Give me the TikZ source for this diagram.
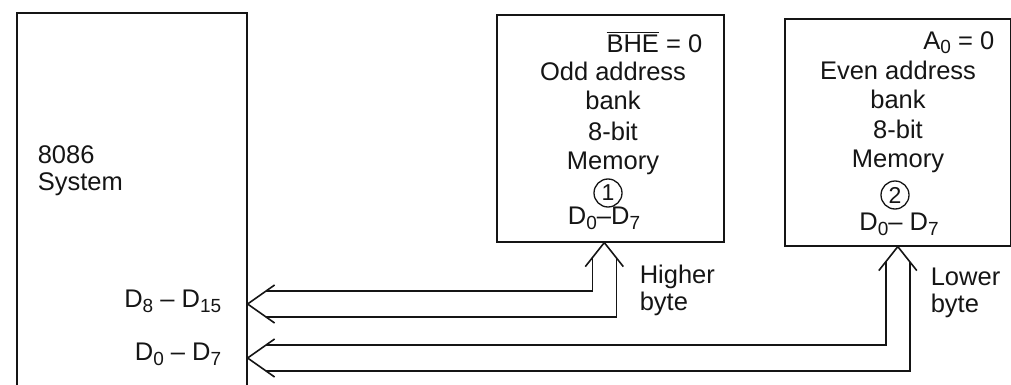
\documentclass[tikz,border=0pt]{standalone}
\usepackage{fontspec}
\setmainfont{Liberation Sans}
\usetikzlibrary{calc}
% subscript index on the data-line names
\newcommand{\busidx}[1]{\raisebox{-0.22em}{\fontsize{19}{19}\selectfont #1}}
% active-low signal name with a bar over it
\newcommand{\barred}[1]{\leavevmode\vbox{\hrule height 1.1pt\kern 2.2pt\hbox{#1}}}
\definecolor{ink}{HTML}{151515}
\begin{document}
\begin{tikzpicture}[x=1pt,y=-1pt,line width=1.6pt,draw=ink,text=ink,
  unit/.style={draw,rectangle,inner sep=0pt,anchor=north west},
  lbl/.style={inner sep=0pt,font=\fontsize{25.5}{29}\selectfont},
  num/.style={draw,circle,line width=1.3pt,minimum size=28pt,inner sep=0pt,
    font=\fontsize{23}{23}\selectfont},
  bus/.style={line width=1.6pt,line join=miter}]
\path[use as bounding box] (0,0) rectangle (1011,385);
\clip (0,0) rectangle (1011,385);

% processor and the two memory banks
\node[unit,minimum width=230pt,minimum height=400pt] (sys) at (16,12) {};
\node[unit,minimum width=227pt,minimum height=227pt] (odd) at (496,14) {};
\node[unit,minimum width=226pt,minimum height=227pt] (even) at (784,18) {};

% processor labels
\node[lbl,anchor=base west] (t8086) at (37,163) {8086};
\node[lbl,anchor=base west] (tsys) at (37,190) {System};
\node[lbl,anchor=base east] (thi) at (222,307) {D\busidx{8} – D\busidx{15}};
\node[lbl,anchor=base east] (tlo) at (222,360) {D\busidx{0} – D\busidx{7}};

% odd bank
\node[lbl,anchor=base east] (bhe) at (703,53) {\barred{BHE} = 0};
\node[lbl,anchor=base] (o1) at (613,81) {Odd address};
\node[lbl,anchor=base] (o2) at (613,110) {bank};
\node[lbl,anchor=base] (o3) at (613,140) {8-bit};
\node[lbl,anchor=base] (o4) at (613,169) {Memory};
\node[num] (n1) at (608,193) {1};
\node[lbl,anchor=base] (o5) at (604,224) {D\busidx{0}–D\busidx{7}};

% even bank
\node[lbl,anchor=base east] (azero) at (995,50)
  {A\raisebox{-0.15em}{\fontsize{19}{19}\selectfont 0} = 0};
\node[lbl,anchor=base] (e1) at (898,80) {Even address};
\node[lbl,anchor=base] (e2) at (898,109) {bank};
\node[lbl,anchor=base] (e3) at (898,139) {8-bit};
\node[lbl,anchor=base] (e4) at (898,167) {Memory};
\node[num] (n2) at (895,195) {2};
\node[lbl,anchor=base] (e5) at (899,230) {D\busidx{0}– D\busidx{7}};

% byte labels
\node[lbl,anchor=base west] (hb1) at (639,283) {Higher};
\node[lbl,anchor=base west] (hb2) at (639,310) {byte};
\node[lbl,anchor=base west] (lb1) at (930,285) {Lower};
\node[lbl,anchor=base west] (lb2) at (930,312) {byte};

% bus end points
\coordinate (hiTip) at ($(odd.south)+(-6,0)$);
\coordinate (loTip) at (even.south);
\coordinate (sysHi) at ($(sys.north east)+(0,292)$);
\coordinate (sysLo) at ($(sys.north east)+(0,346)$);

% higher byte bus: odd bank to D8-D15
\draw[bus] ($(hiTip)+(-19,24)$) -- (hiTip) -- ($(hiTip)+(19,24)$);
\draw[bus] ($(sysHi)+(27,-19)$) -- (sysHi) -- ($(sysHi)+(27,19)$);
\draw[bus] ($(hiTip)+(-12,15)$) |- ($(sysHi)+(18.5,-13)$);
\draw[bus] ($(hiTip)+(12,15)$) |- ($(sysHi)+(18.5,13)$);

% lower byte bus: even bank to D0-D7
\draw[bus] ($(loTip)+(-19,24)$) -- (loTip) -- ($(loTip)+(19,24)$);
\draw[bus] ($(sysLo)+(27,-19)$) -- (sysLo) -- ($(sysLo)+(27,19)$);
\draw[bus] ($(loTip)+(-12,15)$) |- ($(sysLo)+(18.5,-13)$);
\draw[bus] ($(loTip)+(12,15)$) |- ($(sysLo)+(18.5,13)$);
\end{tikzpicture}
\end{document}
